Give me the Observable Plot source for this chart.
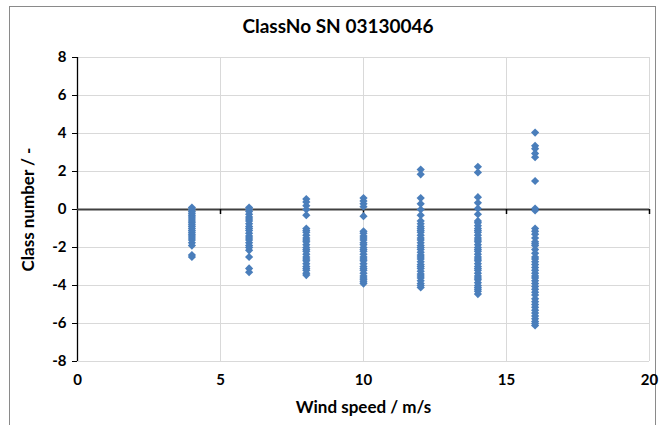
<!DOCTYPE html>
<html>
<head>
<meta charset="utf-8">
<script src="https://cdn.jsdelivr.net/npm/d3@7"></script>
<script src="https://cdn.jsdelivr.net/npm/@observablehq/plot@0.6"></script>
<style>
  html, body { margin: 0; padding: 0; background: #fff; }
  #wrap { position: relative; width: 666px; height: 425px; overflow: hidden; font-family: Lato, "Open Sans", sans-serif; }
  #frame { position: absolute; left: 9px; top: 6px; width: 647px; height: 440px; border: 1px solid #8a8a8a; box-sizing: border-box; }
  #title { position: absolute; left: 0; top: 14px; width: 676px; text-align: center; font-weight: bold; font-size: 19px; color: #000; }
  #chart { position: absolute; left: 0; top: 0; }
</style>
</head>
<body>
<div id="wrap">
  <div id="frame"></div>
  <div id="chart"></div>
  <div id="title">ClassNo SN 03130046</div>
</div>
<script>
const title = "ClassNo SN 03130046";
const xLabel = "Wind speed / m/s";
const yLabel = "Class number / -";
const xTicks = [0, 5, 10, 15, 20];
const yTicks = [-8, -6, -4, -2, 0, 2, 4, 6, 8];

const ws4  = [0.1, 0.0, -0.1, -0.2, -0.3, -0.4, -0.5, -0.6, -0.7, -0.8, -0.9, -1.0, -1.1, -1.2, -1.3, -1.4, -1.5, -1.6, -1.75, -1.9, -2.4, -2.5];
const ws6  = [0.1, 0.0, -0.1, -0.25, -0.4, -0.5, -0.6, -0.75, -0.9, -1.0, -1.1, -1.25, -1.4, -1.5, -1.6, -1.75, -1.9, -2.0, -2.15, -2.5, -3.1, -3.3];
const ws8  = [0.55, 0.4, 0.2, 0.0, -0.3, -1.0, -1.1, -1.2, -1.35, -1.5, -1.6, -1.7, -1.85, -2.0, -2.1, -2.2, -2.35, -2.5, -2.6, -2.7, -2.85, -3.0, -3.1, -3.2, -3.35, -3.45];
const ws10 = [0.6, 0.45, 0.3, 0.15, -0.35, -1.15, -1.25, -1.4, -1.5, -1.6, -1.75, -1.85, -2.0, -2.1, -2.2, -2.35, -2.5, -2.6, -2.7, -2.85, -3.0, -3.1, -3.2, -3.35, -3.5, -3.6, -3.7, -3.8, -3.9];
const ws12 = [2.1, 1.85, 0.6, 0.3, 0.0, -0.3, -0.6, -0.75, -0.9, -1.0, -1.1, -1.2, -1.35, -1.5, -1.6, -1.75, -1.9, -2.0, -2.1, -2.25, -2.4, -2.5, -2.6, -2.75, -2.9, -3.0, -3.1, -3.25, -3.4, -3.5, -3.6, -3.75, -3.9, -4.0, -4.1];
const ws14 = [2.25, 1.95, 0.65, 0.35, 0.05, -0.25, -0.6, -0.7, -0.85, -1.0, -1.1, -1.2, -1.35, -1.5, -1.6, -1.7, -1.85, -2.0, -2.1, -2.2, -2.35, -2.5, -2.6, -2.7, -2.85, -3.0, -3.1, -3.2, -3.35, -3.5, -3.6, -3.7, -3.85, -4.0, -4.1, -4.2, -4.3, -4.45];
const ws16 = [4.05, 3.35, 3.2, 2.95, 2.75, 1.5, 0.05, -0.05, -1.0, -1.15, -1.3, -1.5, -1.7, -1.8, -1.9, -2.1, -2.3, -2.5, -2.6, -2.75, -2.9, -3.05, -3.2, -3.35, -3.5, -3.6, -3.75, -3.9, -4.05, -4.2, -4.35, -4.5, -4.7, -4.85, -5.0, -5.15, -5.3, -5.45, -5.6, -5.75, -5.9, -6.0, -6.1];

const speeds = [4, 6, 8, 10, 12, 14, 16];
const series = [ws4, ws6, ws8, ws10, ws12, ws14, ws16];
const data = speeds.flatMap((s, i) => series[i].map(c => ({ws: s, cls: c})));

const font = "Lato, 'Open Sans', sans-serif";
const chart = Plot.plot({
  width: 666,
  height: 425,
  marginLeft: 77,
  marginRight: 17,
  marginTop: 57,
  marginBottom: 64,
  style: { fontFamily: font, fontSize: "15px", fontWeight: "bold", color: "#000", background: "transparent" },
  x: { domain: [0, 20], ticks: xTicks },
  y: { domain: [-8, 8], ticks: yTicks },
  marks: [
    Plot.ruleY(yTicks, { stroke: "#d9d9d9", strokeWidth: 1 }),
    Plot.ruleX(xTicks.slice(1), { stroke: "#d9d9d9", strokeWidth: 1 }),
    Plot.axisX({ ticks: xTicks, tickSize: 0, tickPadding: 13, tickFormat: d => d, label: null, fontSize: 15 }),
    Plot.axisX({ ticks: [], tickSize: 0, label: xLabel, labelAnchor: "center", labelArrow: "none", labelOffset: 51, fontSize: 17 }),
    Plot.axisY({ ticks: yTicks, tickSize: 5, tickPadding: 6, stroke: "#000", tickFormat: d => d, label: null, fontSize: 15 }),
    Plot.axisY({ ticks: [], tickSize: 0, label: yLabel, labelAnchor: "center", labelArrow: "none", labelOffset: 56, fontSize: 17 }),
    Plot.ruleX([0], { stroke: "#000", strokeWidth: 1.3 }),
    Plot.ruleY([0], { stroke: "#404040", strokeWidth: 2 }),
    Plot.ruleX(xTicks.slice(1), { y1: 0, y2: 0, insetBottom: -5, stroke: "#000", strokeWidth: 1.5 }),
    Plot.dot(data, { x: "ws", y: "cls", symbol: "diamond2", r: 3.7, fill: "#4a7ebb", stroke: "none" })
  ]
});
document.getElementById("chart").appendChild(chart);
</script>
</body>
</html>
